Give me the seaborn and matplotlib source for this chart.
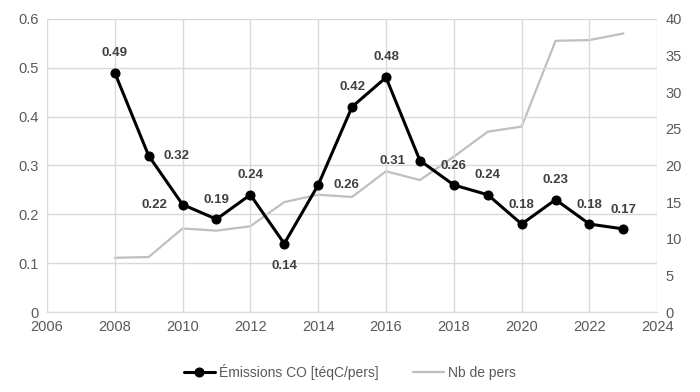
import matplotlib
matplotlib.use("Agg")
import matplotlib.pyplot as plt
import seaborn as sns
import pandas as pd

annees = list(range(2008, 2024))
emissions = [0.49, 0.32, 0.22, 0.19, 0.24, 0.14, 0.26, 0.42, 0.48, 0.31, 0.26, 0.24, 0.18, 0.23, 0.18, 0.17]
nb_pers = [7.4, 7.5, 11.4, 11.1, 11.7, 15.0, 16.0, 15.7, 19.2, 18.0, 21.2, 24.6, 25.3, 37.0, 37.1, 38.0]
# decalage des etiquettes (points), a la maniere d'Excel
decalages = [(0, 14), (20, 0), (-20, 0), (0, 14), (0, 14), (0, -16), (20, 0), (0, 14),
             (0, 15), (-20, 0), (0, 14), (0, 14), (0, 14), (0, 14), (0, 14), (0, 14)]

donnees = pd.DataFrame({"annee": annees, "emissions": emissions, "nb_pers": nb_pers})

sns.set_style("white")
plt.rcParams["font.family"] = ["Liberation Sans Narrow", "Liberation Sans", "DejaVu Sans"]

fig = plt.figure(figsize=(7, 3.92), dpi=100)
ax = fig.add_axes([0.067, 0.204, 0.872, 0.748])
ax2 = ax.twinx()

sns.lineplot(data=donnees, x="annee", y="nb_pers", ax=ax2, color="#bfbfbf", linewidth=1.6,
             label="Nb de pers", legend=False)
sns.lineplot(data=donnees, x="annee", y="emissions", ax=ax, color="black", linewidth=2.2,
             marker="o", markersize=6.5, markeredgecolor="black", label="Émissions CO [téqC/pers]",
             legend=False, zorder=5)
ax.set_zorder(ax2.get_zorder() + 1)
ax.patch.set_visible(False)

for x, y, d in zip(annees, emissions, decalages):
    ax.annotate(f"{y:.2f}", (x, y), xytext=d, textcoords="offset points", ha="center", va="center",
                fontsize=9.5, fontweight="bold", color="#404040",
                family=["Liberation Sans", "DejaVu Sans"])

ax.set_xlim(2006, 2024)
ax.set_xticks(range(2006, 2025, 2))
ax.set_ylim(0, 0.6)
ax.set_yticks([0, 0.1, 0.2, 0.3, 0.4, 0.5, 0.6])
ax.set_yticklabels(["0", "0.1", "0.2", "0.3", "0.4", "0.5", "0.6"])
ax2.set_ylim(0, 40)
ax2.set_yticks(range(0, 41, 5))

ax2.grid(False)
ax.grid(True, color="#d9d9d9", linewidth=1)
for a in (ax, ax2):
    for s in a.spines.values():
        s.set_visible(False)
    a.tick_params(length=0, labelsize=10.5, colors="#595959", pad=6)
    a.set_xlabel("")
    a.set_ylabel("")
ax.spines["bottom"].set_visible(True)
ax.spines["bottom"].set_color("#d9d9d9")

h1, l1 = ax.get_legend_handles_labels()
h2, l2 = ax2.get_legend_handles_labels()
fig.legend(h1 + h2, l1 + l2, loc="lower center", bbox_to_anchor=(0.5, 0.0), ncol=2, frameon=False,
           prop={"family": ["Liberation Sans", "DejaVu Sans"], "size": 10}, labelcolor="#595959",
           columnspacing=2.5, handlelength=2.2, handletextpad=0.3)

fig.savefig("out.png", dpi=100)
